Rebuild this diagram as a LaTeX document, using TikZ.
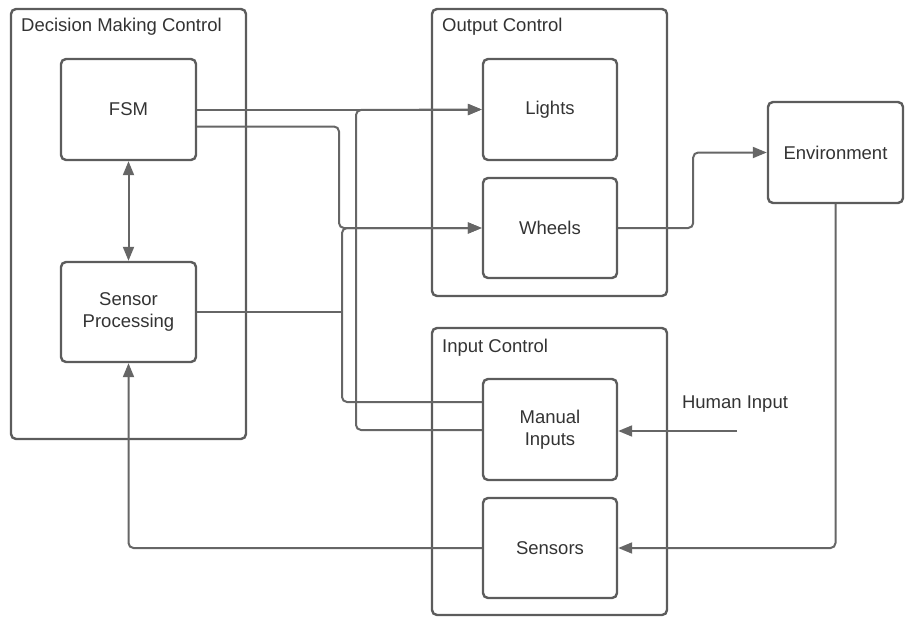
\documentclass[tikz,border=0pt]{standalone}
\usepackage{fontspec}
\setmainfont{Liberation Sans}
\usetikzlibrary{arrows.meta,calc}
\definecolor{ln}{HTML}{666666}
\definecolor{bd}{HTML}{5C5C5C}
\definecolor{tx}{HTML}{333333}
\begin{document}
\begin{tikzpicture}[x=1pt,y=-1pt,
  every node/.style={font=\fontsize{18.5}{22.5}\selectfont, text=tx},
  box/.style={draw=bd, line width=2.4pt, rounded corners=5pt, align=center, inner sep=0pt},
  grp/.style={draw=bd, line width=2.4pt, rounded corners=5pt, inner sep=0pt},
  ttl/.style={anchor=west, inner sep=0pt},
  conn/.style={draw=ln, line width=2pt, rounded corners=5pt, -{Triangle[length=14pt,width=11pt]}},
  plain/.style={draw=ln, line width=2pt, rounded corners=5pt}
]
\useasboundingbox (0,0) rectangle (906,621);
% groups
\node[grp, minimum width=235pt, minimum height=430pt] (dmc) at (128.5,224) {};
\node[grp, minimum width=235pt, minimum height=287pt] (oc) at (549.5,152.5) {};
\node[grp, minimum width=235pt, minimum height=287pt] (ic) at (549.5,471.5) {};
\node[ttl] (dmct) at (21,27) {Decision Making Control};
\node[ttl] (oct) at (442,27) {Output Control};
\node[ttl] (ict) at (442,348) {Input Control};
% boxes
\node[box, minimum width=135pt, minimum height=101pt] (fsm) at (128.5,109.5) {FSM};
\node[box, minimum width=135pt, minimum height=100pt] (sp) at (128.5,312) {Sensor\\Processing};
\node[box, minimum width=134pt, minimum height=101pt] (lights) at (550,109.5) {Lights};
\node[box, minimum width=134pt, minimum height=100pt] (wheels) at (550,228) {Wheels};
\node[box, minimum width=134pt, minimum height=101pt] (mi) at (550,429.5) {Manual\\Inputs};
\node[box, minimum width=134pt, minimum height=100pt] (sensors) at (550,548) {Sensors};
\node[box, minimum width=135pt, minimum height=101pt] (env) at (835.5,152.5) {Environment};
\node[inner sep=0pt] (hit) at (735,404) {Human Input};
% junction coordinates
\coordinate (ja) at (339,228);
\coordinate (jb) at (342,228);
\coordinate (jc) at (356,110);
\coordinate (hi) at (737,431);
% connectors
\draw[conn] (fsm.east) -- (lights.west);
\draw[conn] ($(fsm.east)+(0,17)$) -| (ja) -- (wheels.west);
\draw[conn] ($(mi.west)+(0,-27.5)$) -| (jb) -- (wheels.west);
\draw[plain] (sp.east) -- (sp.east -| jb);
\draw[conn] ($(mi.west)+(0,0.5)$) -| (jc) -- (lights.west);
\draw[conn] (wheels.east) -- ++(75,0) |- (env.west);
\draw[conn] (env.south) |- (sensors.east);
\draw[conn] (hi) -- (hi -| mi.east);
\draw[conn] (sensors.west) -| (sp.south);
\draw[conn, {Triangle[length=14pt,width=11pt]}-{Triangle[length=14pt,width=11pt]}] (fsm.south) -- (sp.north);
\end{tikzpicture}
\end{document}
